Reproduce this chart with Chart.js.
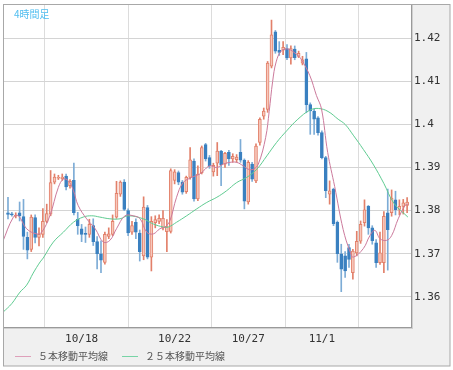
<!DOCTYPE html>
<html><head><meta charset="utf-8">
<script src="https://cdn.jsdelivr.net/npm/chart.js@4"></script>
<style>html,body{margin:0;padding:0;background:#fff}</style>
</head><body>
<canvas id="c" width="453" height="370" style="display:block;width:453px;height:370px"></canvas>
<script>
// ---- data ----
const openP  = [1.3795,1.3792,1.3787,1.3795,1.3786,1.3738,1.3710,1.3784,1.3738,1.3745,1.3775,1.3792,1.3866,1.3875,1.3874,1.3880,1.3858,1.3870,1.3780,1.3758,1.3747,1.3745,1.3765,1.3728,1.3700,1.3680,1.3740,1.3745,1.3785,1.3838,1.3866,1.3800,1.3750,1.3773,1.3748,1.3695,1.3807,1.3692,1.3772,1.3775,1.3760,1.3751,1.3752,1.3870,1.3888,1.3866,1.3844,1.3877,1.3915,1.3827,1.3888,1.3953,1.3923,1.3890,1.3910,1.3938,1.3908,1.3935,1.3920,1.3918,1.3935,1.3917,1.3820,1.3908,1.3869,1.3958,1.4019,1.4035,1.4135,1.4215,1.4172,1.4172,1.4176,1.4154,1.4175,1.4158,1.4142,1.4152,1.4046,1.4031,1.4015,1.3981,1.3923,1.3838,1.3850,1.3773,1.3700,1.3695,1.3714,1.3656,1.3702,1.3729,1.3772,1.3810,1.3760,1.3725,1.3679,1.3679,1.3795,1.3795,1.3825,1.3803,1.3810,1.3812];
const highP  = [1.3831,1.3796,1.3795,1.3820,1.3826,1.3750,1.3790,1.3790,1.3760,1.3805,1.3815,1.3893,1.3885,1.3882,1.3885,1.3885,1.3872,1.3910,1.3796,1.3768,1.3762,1.3780,1.3781,1.3740,1.3730,1.3750,1.3760,1.3790,1.3868,1.3869,1.3872,1.3804,1.3775,1.3781,1.3755,1.3832,1.3812,1.3786,1.3788,1.3790,1.3800,1.3779,1.3897,1.3895,1.3892,1.3870,1.3880,1.3946,1.3920,1.3904,1.3950,1.3956,1.3928,1.3910,1.3958,1.3940,1.3935,1.3940,1.3932,1.3930,1.3965,1.3920,1.3916,1.3912,1.3955,1.4015,1.4038,1.4146,1.4242,1.4218,1.4192,1.4192,1.4185,1.4182,1.4182,1.4170,1.4158,1.4167,1.4050,1.4035,1.4018,1.3985,1.3926,1.3869,1.3852,1.3776,1.3722,1.3705,1.3722,1.3710,1.3752,1.3776,1.3825,1.3812,1.3765,1.3733,1.3750,1.3798,1.3850,1.3848,1.3845,1.3825,1.3826,1.3830];
const lowP   = [1.3781,1.3787,1.3783,1.3776,1.3710,1.3688,1.3705,1.3725,1.3718,1.3738,1.3772,1.3788,1.3862,1.3872,1.3870,1.3848,1.3852,1.3790,1.3745,1.3728,1.3726,1.3738,1.3719,1.3665,1.3656,1.3676,1.3735,1.3742,1.3782,1.3833,1.3800,1.3742,1.3745,1.3735,1.3683,1.3686,1.3688,1.3660,1.3760,1.3770,1.3755,1.3705,1.3748,1.3862,1.3860,1.3838,1.3840,1.3873,1.3822,1.3823,1.3885,1.3915,1.3898,1.3880,1.3881,1.3858,1.3900,1.3905,1.3912,1.3912,1.3912,1.3804,1.3815,1.3868,1.3865,1.3952,1.4012,1.4028,1.4131,1.4165,1.4160,1.4162,1.4150,1.4140,1.4150,1.4155,1.4138,1.4027,1.3977,1.3977,1.3975,1.3920,1.3830,1.3815,1.3765,1.3680,1.3612,1.3645,1.3668,1.3641,1.3695,1.3724,1.3764,1.3745,1.3722,1.3668,1.3675,1.3656,1.3662,1.3787,1.3790,1.3790,1.3792,1.3795];
const closeP = [1.3791,1.3790,1.3789,1.3788,1.3740,1.3708,1.3785,1.3738,1.3745,1.3775,1.3793,1.3865,1.3878,1.3877,1.3878,1.3855,1.3868,1.3795,1.3765,1.3745,1.3745,1.3768,1.3728,1.3700,1.3685,1.3745,1.3746,1.3775,1.3840,1.3866,1.3803,1.3748,1.3765,1.3750,1.3705,1.3808,1.3692,1.3775,1.3779,1.3782,1.3782,1.3763,1.3893,1.3890,1.3866,1.3843,1.3877,1.3918,1.3827,1.3885,1.3946,1.3920,1.3904,1.3905,1.3938,1.3906,1.3933,1.3920,1.3926,1.3924,1.3917,1.3822,1.3912,1.3873,1.3950,1.4012,1.4031,1.4142,1.4208,1.4170,1.4167,1.4179,1.4154,1.4176,1.4155,1.4165,1.4150,1.4046,1.4031,1.4012,1.3981,1.3923,1.3846,1.3846,1.3770,1.3700,1.3664,1.3660,1.3687,1.3706,1.3729,1.3768,1.3802,1.3760,1.3730,1.3679,1.3702,1.3787,1.3756,1.3829,1.3802,1.3810,1.3818,1.3820];

// moving-average lines, read as points (bar position, value)
const ma5X  = [-1.4,1.4,2.7,4.8,7.4,8.7,10.8,13.0,14.3,15.6,16.9,18.1,20.3,22.5,24.6,26.3,28.0,30.2,32.3,34.1,35.8,37.5,39.2,40.5,41.8,43.5,45.2,47.4,49.5,50.4,52.1,53.8,55.6,57.3,59.0,60.7,62.0,63.3,64.6,66.5,67.4,68.3,69.2,70.5,72.2,74.4,75.6,77.9,79.6,80.9,82.5,84.3,86.5,88.3,89.1,91.7,93.4,94.7,96.0,97.7,99.0,100.7,102.5,103.3];
const ma5Y  = [1.3727,1.3785,1.3788,1.3758,1.3746,1.3750,1.3788,1.3854,1.3873,1.3869,1.3846,1.3812,1.3781,1.3758,1.3727,1.3731,1.3758,1.3788,1.3788,1.3781,1.3750,1.3746,1.3758,1.3762,1.3777,1.3831,1.3865,1.3877,1.3885,1.3892,1.3904,1.3900,1.3908,1.3912,1.3912,1.3904,1.3896,1.3896,1.3908,1.3970,1.4030,1.4100,1.4145,1.4170,1.4175,1.4163,1.4152,1.4113,1.4067,1.4036,1.3935,1.3856,1.3756,1.3704,1.3692,1.3712,1.3742,1.3754,1.3735,1.3731,1.3742,1.3781,1.3812,1.3815];
const ma25X = [-1.2,0.95,3.1,4.8,6.5,8.3,9.1,11.7,14.3,16.9,19.4,21.6,23.7,26.3,28.9,31.0,34.9,37.5,40.1,41.4,43.5,46.1,48.7,51.3,53.9,56.4,59.0,61.6,64.2,66.8,69.3,71.9,74.8,77.9,80.1,82.6,85.2,87.0,89.1,91.7,94.2,97.0,99.6,103.2];
const ma25Y = [1.3565,1.3584,1.3611,1.3627,1.3655,1.3681,1.3690,1.3727,1.3750,1.3773,1.3785,1.3788,1.3785,1.3781,1.3781,1.3788,1.3781,1.3769,1.3762,1.3762,1.3773,1.3788,1.3804,1.3819,1.3831,1.3846,1.3865,1.3877,1.3896,1.3927,1.3958,1.3985,1.4012,1.4033,1.4037,1.4030,1.4012,1.4000,1.3975,1.3942,1.3908,1.3863,1.3817,1.3785];

const tickIdx    = [0,19,43,62,81];
const tickLabels = ['','10/18','10/22','10/27','11/1'];
const yTicks     = [1.36,1.37,1.38,1.39,1.40,1.41,1.42];
const titleText  = '4時間足';
const legendNames = ['５本移動平均線','２５本移動平均線'];

// ---- styles ----
const UP_LINE='rgb(226,128,106)', UP_FILL='rgb(247,200,188)';
const DN_FILL='rgb(58,128,192)', DN_WICK='rgb(125,172,214)';
const MA5_COL='rgb(204,122,156)', MA25_COL='rgb(96,204,146)';
const MA5_LEG='rgb(222,160,186)', MA25_LEG='rgb(120,212,166)';

const idx = openP.map((_, i) => i);
const isUp = i => closeP[i] >= openP[i];
const wickData = idx.map(i => ({x: i, y: [lowP[i], highP[i]]}));
const bodyData = idx.map(i => ({x: i, y: [openP[i], closeP[i]]}));
const ma5Data  = ma5X.map((x, k) => ({x, y: ma5Y[k]}));
const ma25Data = ma25X.map((x, k) => ({x, y: ma25Y[k]}));

const frame = {
  id: 'frame',
  beforeDraw(chart) {
    const {ctx, chartArea: a} = chart;
    ctx.save();
    ctx.fillStyle = '#fff'; ctx.fillRect(0, 0, chart.width, chart.height);
    ctx.fillStyle = '#f0f0f0'; ctx.fillRect(3, 5, 447, 361);
    ctx.fillStyle = '#fff'; ctx.fillRect(a.left, a.top, a.right - a.left, a.bottom - a.top);
    ctx.restore();
  },
  afterDraw(chart) {
    const {ctx, chartArea: a} = chart;
    ctx.save();
    ctx.lineWidth = 1;
    ctx.strokeStyle = '#9a9a9a';
    ctx.beginPath();
    ctx.moveTo(a.right + 0.5, a.top); ctx.lineTo(a.right + 0.5, a.bottom + 1);
    ctx.moveTo(3, a.bottom + 0.5); ctx.lineTo(a.right + 1, a.bottom + 0.5);
    ctx.stroke();
    ctx.strokeStyle = '#d0d0d0';
    ctx.beginPath();
    ctx.moveTo(a.right + 1.5, a.top); ctx.lineTo(a.right + 1.5, a.bottom + 2);
    ctx.moveTo(3, a.bottom + 1.5); ctx.lineTo(a.right + 2, a.bottom + 1.5);
    ctx.stroke();
    ctx.strokeStyle = '#a8a8a8';
    ctx.strokeRect(3.5, 4.5, 446.5, 361.5);
    // title
    ctx.fillStyle = 'rgb(80,190,240)';
    ctx.font = '10px "Noto Sans CJK JP"';
    ctx.textBaseline = 'middle';
    ctx.fillText(titleText, 14, 14);
    // legend
    const ly = 356;
    const items = [[15, MA5_LEG, legendNames[0]], [122, MA25_LEG, legendNames[1]]];
    ctx.font = '10px "Noto Sans CJK JP"';
    items.forEach(([x, c, t]) => {
      ctx.strokeStyle = c; ctx.lineWidth = 1;
      ctx.beginPath(); ctx.moveTo(x, ly + 0.5); ctx.lineTo(x + 16, ly + 0.5); ctx.stroke();
      ctx.fillStyle = '#555';
      ctx.fillText(t, x + 23, ly);
    });
    ctx.restore();
  }
};

new Chart(document.getElementById('c'), {
  type: 'bar',
  data: {
    datasets: [
      { type: 'line', label: legendNames[0], data: ma5Data, borderColor: MA5_COL, borderWidth: 1,
        pointRadius: 0, tension: 0.4, order: 0, fill: false },
      { type: 'line', label: legendNames[1], data: ma25Data, borderColor: MA25_COL, borderWidth: 1,
        pointRadius: 0, tension: 0.4, order: 0, fill: false },
      { label: 'body', data: bodyData, grouped: false, barThickness: 3, minBarLength: 1, order: 1,
        backgroundColor: ctx => isUp(ctx.dataIndex) ? UP_FILL : DN_FILL,
        borderColor: ctx => isUp(ctx.dataIndex) ? UP_LINE : DN_FILL,
        borderWidth: 1, borderSkipped: false },
      { label: 'wick', data: wickData, grouped: false, barThickness: 1, order: 2,
        backgroundColor: ctx => isUp(ctx.dataIndex) ? UP_LINE : DN_WICK, borderWidth: 0 }
    ]
  },
  options: {
    responsive: false, animation: false, devicePixelRatio: 1,
    layout: { padding: { left: 4, top: 5, right: 3, bottom: 0 } },
    plugins: { legend: { display: false }, tooltip: { enabled: false } },
    scales: {
      x: {
        type: 'linear', min: -1.03, max: 104, offset: false,
        afterBuildTicks: s => { s.ticks = tickIdx.map(v => ({value: v})); },
        afterFit: s => { s.height = 43; s.paddingLeft = 0; s.paddingRight = 0; },
        grid: { color: '#dcdcdc', drawTicks: false },
        border: { display: false },
        ticks: { autoSkip: false, maxRotation: 0, padding: 6, color: '#333',
          font: { family: 'DejaVu Sans Mono', size: 11 },
          callback: (v) => { const k = tickIdx.indexOf(v); return k >= 0 ? tickLabels[k] : ''; } }
      },
      y: {
        position: 'right', min: 1.3530, max: 1.4277,
        afterBuildTicks: s => { s.ticks = yTicks.map(v => ({value: v})); },
        afterFit: s => { s.width = 39; s.paddingTop = 0; s.paddingBottom = 0; },
        grid: { color: '#d4d4d4', drawTicks: false },
        border: { display: false },
        ticks: { padding: 3, color: '#333', font: { family: 'DejaVu Sans Mono', size: 11 },
          callback: v => String(+(+v).toFixed(2)) }
      }
    }
  },
  plugins: [frame]
});
</script>
</body></html>
